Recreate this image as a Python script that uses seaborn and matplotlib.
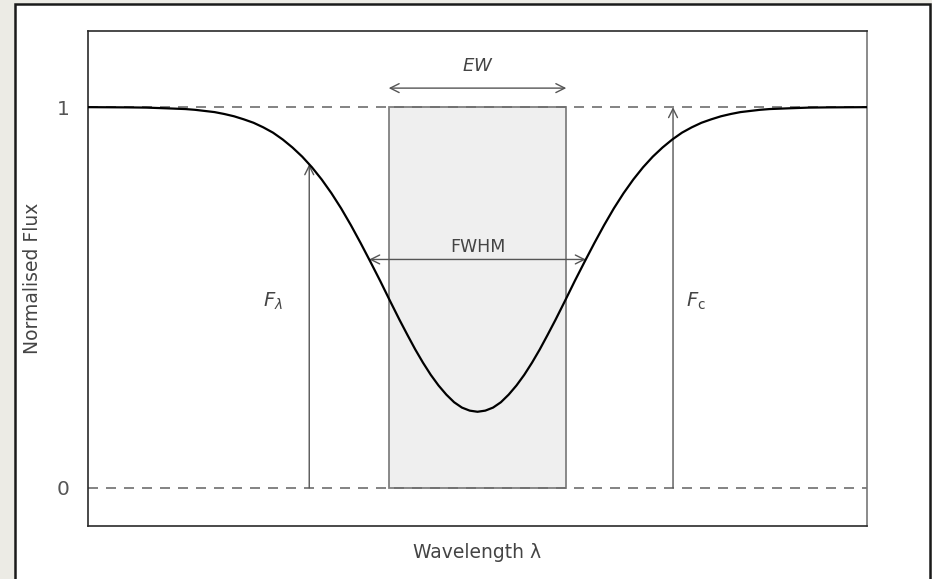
import matplotlib
matplotlib.use("Agg")
import matplotlib.pyplot as plt
from matplotlib.patches import Rectangle
import seaborn as sns
import pandas as pd

# ---- data ----
wavelength = [0.0, 0.25, 0.5, 0.75, 1.0, 1.125, 1.25, 1.375, 1.5, 1.625, 1.75, 1.875, 2.0, 2.125, 2.25,
              2.375, 2.5, 2.625, 2.75, 2.875, 3.0, 3.125, 3.25, 3.375, 3.5, 3.625, 3.75, 3.875,
              4.0, 4.1, 4.2, 4.3, 4.4, 4.5, 4.6, 4.7, 4.8, 4.9, 5.0,
              5.1, 5.2, 5.3, 5.4, 5.5, 5.6, 5.7, 5.8, 5.9, 6.0,
              6.125, 6.25, 6.375, 6.5, 6.625, 6.75, 6.875, 7.0, 7.125, 7.25, 7.375, 7.5, 7.625,
              7.75, 7.875, 8.0, 8.125, 8.25, 8.375, 8.5, 8.625, 8.75, 8.875, 9.0, 9.25, 9.5, 9.75, 10.0]
flux = [1.000, 0.9997, 0.9994, 0.9988, 0.997, 0.996, 0.995, 0.993, 0.990, 0.987, 0.982, 0.976, 0.968, 0.959, 0.947,
        0.933, 0.915, 0.894, 0.870, 0.842, 0.810, 0.774, 0.734, 0.690, 0.643, 0.594, 0.544, 0.492,
        0.441, 0.402, 0.364, 0.329, 0.297, 0.269, 0.245, 0.225, 0.211, 0.203, 0.200,
        0.203, 0.211, 0.225, 0.245, 0.269, 0.297, 0.329, 0.364, 0.402, 0.441,
        0.492, 0.544, 0.594, 0.643, 0.690, 0.734, 0.774, 0.810, 0.842, 0.870, 0.894, 0.915, 0.933,
        0.947, 0.959, 0.968, 0.976, 0.982, 0.987, 0.990, 0.993, 0.995, 0.996, 0.997, 0.9988, 0.9994, 0.9997, 1.000]

continuum = 1.0
zero_level = 0.0
ew_left, ew_right = 3.86, 6.14          # equivalent-width box edges
fwhm_left, fwhm_right, half_max = 3.61, 6.39, 0.60
ew_arrow_y = 1.05
f_lambda_x, f_lambda_y = 2.84, 0.85
f_c_x = 7.51
y_ticks = [0, 1]
y_tick_labels = ["0", "1"]

df = pd.DataFrame({"wavelength": wavelength, "flux": flux})

# ---- figure ----
sns.set_style("white")
plt.rcParams["font.family"] = ["DejaVu Sans"]
plt.rcParams["mathtext.fontset"] = "dejavusans"

W, H = 932, 579
fig = plt.figure(figsize=(W / 100, H / 100), dpi=100, facecolor="#ecebe5")
# white panel with dark frame
panel = Rectangle((15 / W, -0.05), (930 - 15) / W, 1.05 - 4 / H,
                  transform=fig.transFigure, facecolor="white",
                  edgecolor="#1a1a1a", lw=1.8, zorder=-10)
fig.patches.append(panel)

ax = fig.add_axes([88 / W, 1 - 526 / H, (867 - 88) / W, (526 - 31) / H])
ax.set_zorder(5)
ax.set_facecolor("white")

# equivalent width box
ax.add_patch(Rectangle((ew_left, zero_level), ew_right - ew_left, continuum - zero_level,
                       facecolor="#efefef", edgecolor="#808080", lw=1.3, zorder=1))

# dashed reference levels
for lev in (zero_level, continuum):
    ax.axhline(lev, color="#6e6e6e", lw=1.2, dashes=(6, 4.8), zorder=2)

# line profile
sns.lineplot(data=df, x="wavelength", y="flux", ax=ax, color="black", lw=1.6, zorder=4)

arrow_kw = dict(arrowstyle="->", color="#555555", lw=1.0, shrinkA=0, shrinkB=0, mutation_scale=16)
arrow2_kw = dict(arrowstyle="<->", color="#555555", lw=1.0, shrinkA=0, shrinkB=0, mutation_scale=16)

ax.annotate("", xy=(f_lambda_x, f_lambda_y), xytext=(f_lambda_x, zero_level), arrowprops=arrow_kw, zorder=3)
ax.annotate("", xy=(f_c_x, continuum), xytext=(f_c_x, zero_level), arrowprops=arrow_kw, zorder=3)
ax.annotate("", xy=(fwhm_left, half_max), xytext=(fwhm_right, half_max), arrowprops=arrow2_kw, zorder=3)
ax.annotate("", xy=(ew_left, ew_arrow_y), xytext=(ew_right, ew_arrow_y), arrowprops=arrow2_kw, zorder=3)

txt = dict(color="#444444", ha="center", va="center")
ax.text(5.0, 1.107, r"$EW$", fontsize=13, **txt)
ax.text(5.0, 0.633, "FWHM", fontsize=12.5, **txt)
ax.text(2.37, 0.49, r"$F_\lambda$", fontsize=14, **txt)
ax.text(7.81, 0.49, r"$F_{\rm c}$", fontsize=14, **txt)

ax.set_xlim(0, 10)
ax.set_ylim(-0.1, 1.2)
ax.set_xticks([])
ax.set_yticks(y_ticks)
ax.set_yticklabels(y_tick_labels)
ax.tick_params(axis="y", length=0, pad=13, labelsize=14.5, labelcolor="#555555")
ax.set_xlabel("Wavelength λ", fontsize=13.5, color="#444444", labelpad=12)
ax.set_ylabel("Normalised Flux", fontsize=13.5, color="#444444", labelpad=11)

for side, sp in ax.spines.items():
    sp.set_visible(True)
    sp.set_color("#2a2a2a" if side in ("left", "top", "bottom") else "#777777")
    sp.set_linewidth(1.2)

fig.savefig("out.png", dpi=100, facecolor=fig.get_facecolor())
